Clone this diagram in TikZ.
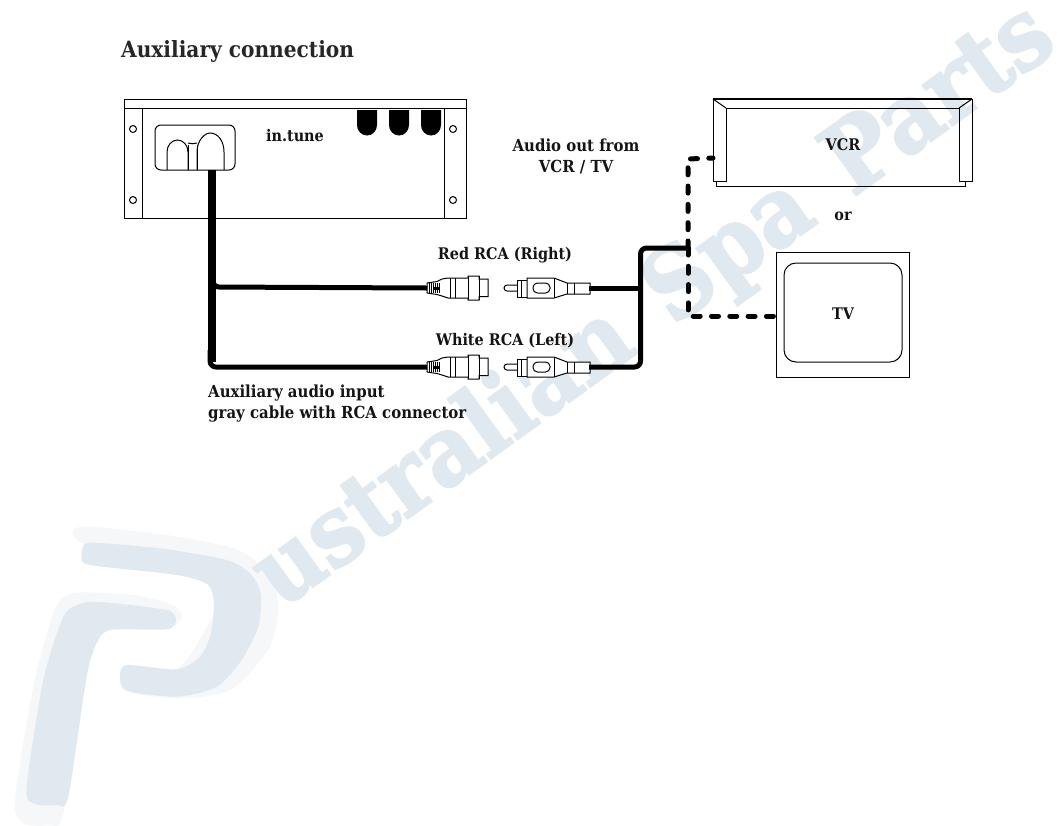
\documentclass[tikz,border=0pt]{standalone}
\usepackage{fontspec}
\setmainfont{DejaVu Serif Condensed}
\newfontfamily\wmfont[FakeBold=2]{DejaVu Serif Condensed}
\definecolor{wm}{HTML}{E0E9F0}
\definecolor{wmsh}{HTML}{F5F7F8}
\tikzset{
 lbl/.style={font=\fontsize{16}{21}\selectfont\bfseries,align=center,inner sep=0pt,text=black!92},
 lblw/.style={font=\fontsize{16.6}{21}\selectfont\bfseries,inner sep=0pt,text=black!92},
 thin line/.style={draw=black,line width=1pt},
 cable/.style={line width=5pt,line join=round,rounded corners=6pt},
 dashcable/.style={line width=5pt,line cap=round,dash pattern=on 7pt off 11.3pt},
 pads/.style={fill=black},
 sockplug/.pic={
   % socket
   \coordinate (-in) at (-62,0);
   \coordinate (-out) at (100,0);
   \draw[thin line,fill=white] (-62,-5) -- (-52,-6.5) -- (-47,-9) -- (-41,-10) -- (-21,-10) -- (-21,-12) -- (-10,-12) -- (-10,-9) -- (-1,-9) -- (-1,8.5) -- (-10,8.5) -- (-10,12) -- (-21,12) -- (-21,10) -- (-41,10) -- (-47,8) -- (-52,6.5) -- (-62,5) -- cycle;
   \draw[thin line] (-21,-12) -- (-21,12) (-10,-12) -- (-10,12) (-39,-10) -- (-39,10) (-34,-10) -- (-34,10);
   \foreach \xx in {-60,-58,-56,-54,-52,-50} \draw[line width=.9pt] (\xx,-5) -- (\xx,5);
   \fill (-56,-1.5) rectangle (-49,1.5);
   % plug
   \draw[thin line,fill=white] (28,-3) -- (18,-3) arc[start angle=270,end angle=90,radius=3] -- (28,3);
   \draw[thin line,fill=white] (28,-8) rectangle (38,9);
   \draw[thin line,fill=white] (32,-8) rectangle (38,9);
   \draw[thin line,fill=white] (38,-10) -- (65,-10) -- (78,-5) -- (101,-5) -- (101,6) -- (78,6) -- (65,10) -- (38,10) -- cycle;
   \draw[thin line] (65,-10) -- (65,10) (78,-5) -- (78,6) (85,-5) -- (85,6);
   \draw[thin line,rounded corners=4.5pt] (44,-5) rectangle (61,5);
 }
}
\begin{document}
\begin{tikzpicture}[x=1pt,y=-1pt]
\useasboundingbox (0,0) rectangle (1062,825);
% watermark P
\begin{scope}[shift={(0,480)},x=0.3333pt,y=-0.3333pt]
 \fill[wmsh] plot[smooth cycle,tension=.45] coordinates {(245,140) (500,165) (700,205) (800,270) (835,370) (810,500) (700,625) (560,655) (400,640) (380,600) (540,560) (640,400) (640,290) (250,190)};
 \fill[wmsh] plot[smooth cycle,tension=.45] coordinates {(215,340) (400,345) (520,375) (545,410) (510,440) (320,440) (270,530) (190,1000) (150,1035) (70,1030) (45,960) (100,620) (160,400)};
 \fill[wm] plot[smooth cycle,tension=.45] coordinates {(250,200) (275,188) (480,205) (680,240) (750,280) (782,340) (775,440) (725,540) (650,620) (530,650) (380,632) (360,590) (380,555) (530,568) (600,530) (630,470) (642,380) (625,315) (530,285) (270,255) (245,230)};
 \fill[wm] plot[smooth cycle,tension=.45] coordinates {(240,372) (300,366) (500,390) (528,420) (500,448) (330,450) (290,490) (260,590) (205,950) (170,975) (100,970) (80,920) (130,600) (190,410)};
\end{scope}
% watermark text
\node[rotate=35.8,anchor=base west,inner sep=0pt,text=wm,font=\wmfont\fontsize{97}{97}\selectfont\bfseries] (wmark) at (281,610) {ustralian\hspace{11pt} Spa\hspace{11pt} Parts};
% in.tune unit
\draw[thin line] (124,99) rectangle (466,218);
\draw[thin line] (124,108) -- (466,108) (142,108) -- (142,218) (444,108) -- (444,218);
\foreach \p in {(133,129),(133,200),(453,129),(453,200)} \draw[thin line,fill=white] \p circle (3.5);
\draw[thin line,rounded corners=6pt] (155,125) rectangle (235,170);
\draw[thin line] (167,170) -- (167,152) arc[start angle=180,end angle=360,x radius=10.5,y radius=12] -- (188,170);
\draw[thin line] (197,170) -- (197,152) .. controls (197,140) and (205,133) .. (210,133) .. controls (218,133) and (224,141) .. (224,152) -- (224,170);
\draw[thin line] (188,143) .. controls (191,144) and (194,144) .. (197,143);
\draw[thin line] (188,145) -- (188,170) (197,145) -- (197,170);
\foreach \xx in {357,389,421} \fill[pads] (\xx,110) -- (\xx+20,110) -- (\xx+20,125) arc[start angle=0,end angle=180,x radius=10,y radius=10.5] -- cycle;
\coordinate (intune) at (211.5,170);
\node[lbl] (lintune) at (295,136) {in.tune};
% VCR
\draw[thin line] (716,181) -- (716,186) -- (965,186) -- (965,181);
\draw[thin line] (713,99) -- (972,99) -- (972,181) -- (959,181) -- (959,108) -- (726,108) -- (726,181) -- (713,181) -- cycle;
\draw[line width=1.6pt] (713,99) -- (972,99);
\draw[thin line] (713,99) -- (726,108) (972,99) -- (959,108);
\coordinate (vcr) at (713,158);
\node[lbl] (lvcr) at (843,145) {VCR};
\node[lbl] (lor) at (843,216) {or};
% TV
\draw[thin line] (776,252) rectangle (909,377);
\draw[thin line,rounded corners=12pt] (784,263) rectangle (902,362);
\coordinate (tv) at (776,316);
\node[lbl] (ltv) at (843,314) {TV};
% cables
\pic (r) at (489,288) {sockplug};
\pic (w) at (489,367) {sockplug};
\draw[line width=8pt] (intune) -- (211.5,362);
\draw[cable] (w-in) -- (210,367) -- (210,350);
\draw[cable] (r-in) -- (213,287) -- (213,275);
\coordinate (j) at (688,248);
\coordinate (jd) at (688,316);
\draw[cable] (r-out) -- (640.5,288);
\draw[cable] (w-out) -- (640.5,367) -- (640.5,248) -- (j);
\draw[dashcable] (688,248) -- (688,159) -- (vcr);
\draw[dashcable] (688,248) -- (jd) -- (tv);
% labels
\node[anchor=base west,inner sep=0pt,font=\fontsize{22.4}{26}\selectfont\bfseries,text=black!85] (title) at (121,57) {Auxiliary connection};
\node[lblw,align=center] (laudio) at (576,156.5) {Audio out from\\VCR / TV};
\node[lbl] (lred) at (505,255) {Red RCA (Right)};
\node[lbl] (lwhite) at (505,341) {White RCA (Left)};
\node[lblw,align=left,anchor=west] (laux) at (208,403.5) {Auxiliary audio input\\gray cable with RCA connector};
\end{tikzpicture}
\end{document}
